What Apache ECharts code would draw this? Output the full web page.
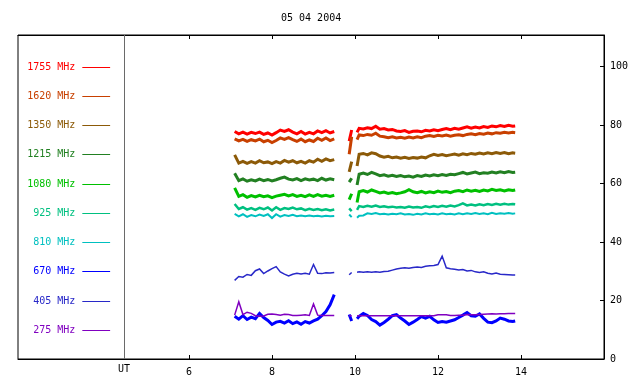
<!DOCTYPE html>
<html><head><meta charset="utf-8">
<script src="https://cdn.jsdelivr.net/npm/echarts@6/dist/echarts.min.js"></script>
<style>html,body{margin:0;padding:0;background:#fff}#c{width:640px;height:384px}</style>
</head><body><div id="c"></div>
<script>
const titleText = '05 04 2004';
const xTicks = [6, 8, 10, 12, 14];
const yTicks = [0, 20, 40, 60, 80, 100];
const legendLabels = ['1755 MHz','1620 MHz','1350 MHz','1215 MHz','1080 MHz','925 MHz','810 MHz','670 MHz','405 MHz','275 MHz'];
const legendLevels = [100, 90, 80, 70, 60, 50, 40, 30, 20, 10];
const colors = ['#ff0000','#c84000','#8c5a08','#228022','#00c000','#00c080','#00c0c0','#0000ff','#2828c8','#8000c0'];

const hours = [7.1,7.2,7.3,7.4,7.5,7.6,7.7,7.8,7.9,8.0,8.1,8.2,8.3,8.4,8.5,8.6,8.7,8.8,8.9,9.0,9.1,9.2,9.3,9.4,9.5,
 9.7,
 9.86,9.92,
 10.0,
 10.05,10.1,10.2,10.3,10.4,10.5,10.6,10.7,10.8,10.9,11.0,11.1,11.2,11.3,11.4,11.5,11.6,11.7,11.8,11.9,12.0,12.1,12.2,12.3,12.4,12.5,12.6,12.7,12.8,12.9,13.0,13.1,13.2,13.3,13.4,13.5,13.6,13.7,13.8,13.86];

const f1755 = [77.8,77.0,77.6,76.9,77.5,77.1,77.6,76.8,77.3,76.6,77.4,78.3,77.8,78.4,77.6,77.0,77.8,76.9,77.5,77.0,78.0,77.4,78.1,77.3,77.8,
 null, 74.5,78.3, null,
 77.5,78.9,78.7,79.1,78.8,79.6,78.6,78.8,78.3,78.5,78.0,77.8,78.1,77.5,77.9,78.0,77.7,78.2,78.0,78.4,78.1,78.5,78.8,78.4,78.9,78.6,79.0,79.4,78.9,79.3,79.0,79.5,79.2,79.7,79.4,79.8,79.5,79.9,79.6,79.7];
const f1620 = [75.3,74.6,75.1,74.4,75.0,74.6,75.2,74.3,74.8,74.0,74.7,75.6,75.1,75.7,75.0,74.4,75.2,74.3,74.9,74.4,75.5,74.8,75.6,74.7,75.3,
 null, 70.0,76.0, null,
 75.0,76.6,76.4,76.8,76.5,77.2,76.2,76.0,75.7,76.0,75.6,75.8,75.5,75.9,75.6,76.0,75.7,76.2,76.4,76.1,76.5,76.3,76.6,76.2,76.5,76.7,76.4,76.8,77.0,76.7,77.1,76.9,77.3,77.0,77.4,77.2,77.5,77.3,77.5,77.4];
const f1350 = [69.8,67.0,67.6,66.9,67.5,67.0,67.8,67.1,67.4,66.8,67.5,67.0,67.9,67.3,67.8,67.1,67.6,67.0,67.8,67.3,68.3,67.6,68.4,67.8,68.2,
 null, 64.0,67.5, null,
 66.0,70.0,70.3,69.8,70.5,70.2,69.4,69.0,69.3,68.8,69.1,68.7,69.0,68.6,68.9,68.7,69.1,68.8,69.5,70.0,69.6,69.9,69.5,69.8,70.1,69.7,70.2,69.9,70.3,70.0,70.4,70.1,70.5,70.2,70.6,70.3,70.6,70.2,70.5,70.4];
const f1215 = [63.5,61.0,61.6,60.8,61.3,60.9,61.5,61.0,61.4,60.9,61.3,61.8,62.2,61.5,61.2,61.7,61.0,61.6,61.2,61.5,61.0,61.8,61.2,61.6,61.3,
 null, 60.5,61.8, null,
 59.5,63.2,63.6,63.1,63.8,63.3,62.7,63.0,62.5,62.8,62.4,62.7,62.3,62.6,62.2,62.7,62.4,62.9,62.6,63.0,62.7,63.1,62.8,63.2,63.0,63.4,63.8,63.3,63.6,63.9,63.4,63.7,63.5,63.9,63.6,64.0,63.7,64.1,63.8,63.9];
const f1080 = [58.5,55.6,56.2,55.3,55.9,55.4,56.0,55.5,55.8,55.2,55.7,56.0,56.3,55.8,56.2,55.6,56.0,55.5,56.1,55.6,56.2,55.7,56.0,55.6,56.0,
 null, 54.5,56.5, null,
 53.5,57.2,57.6,57.1,57.8,57.3,56.8,57.1,56.6,56.9,56.5,56.8,57.2,57.9,57.2,56.9,57.3,56.8,57.2,56.9,57.4,57.0,57.3,56.9,57.4,57.6,57.2,57.8,57.4,57.7,57.3,57.8,57.5,58.0,57.6,57.9,57.5,57.9,57.6,57.8];
const f925 = [53.0,51.3,51.9,51.1,51.6,51.0,51.7,51.2,51.8,50.8,51.9,51.0,51.6,51.3,51.8,51.2,51.5,50.9,51.4,51.0,51.3,50.9,51.2,50.8,51.1,
 null, 51.5,50.6, null,
 51.0,52.3,52.0,52.4,52.1,52.5,52.0,52.2,51.9,52.1,51.8,52.0,51.7,52.1,51.8,52.0,51.7,52.2,51.9,52.3,52.0,52.4,52.1,52.5,52.2,52.6,53.2,52.5,52.8,52.5,52.9,52.6,53.0,52.7,53.1,52.8,53.1,52.8,53.0,52.9];
const f810 = [49.6,48.8,49.5,48.6,49.2,48.8,49.4,48.9,49.5,48.2,49.5,48.7,49.2,48.9,49.3,48.8,49.1,48.8,49.1,48.8,49.0,48.7,49.0,48.8,48.9,
 null, 49.4,48.5, null,
 48.3,49.0,49.1,49.8,49.6,49.9,49.5,49.7,49.4,49.7,49.5,49.8,49.4,49.6,49.3,49.7,49.4,49.8,49.5,49.7,49.4,49.8,49.5,49.7,49.4,49.8,49.5,49.8,49.6,49.9,49.6,49.8,49.5,50.0,49.6,49.8,49.7,49.9,49.7,49.8];
const f670 = [14.6,13.6,14.8,13.5,14.3,13.8,15.6,14.2,13.2,11.8,12.6,12.9,12.3,13.1,12.1,12.7,11.9,12.8,12.3,13.0,13.6,14.8,16.2,18.5,22.0,
 null, 15.2,13.0, null,
 13.8,14.6,15.6,14.9,13.5,12.8,11.6,12.5,13.6,14.8,15.2,14.0,13.0,11.8,12.6,13.5,14.5,14.0,14.6,13.4,12.5,12.8,12.6,13.0,13.4,14.2,15.0,15.9,14.8,14.6,15.4,13.9,12.6,12.4,13.0,14.0,13.6,13.0,12.8,13.0];
const f405 = [26.9,28.2,28.0,28.9,28.6,30.2,30.8,29.2,30.1,30.9,31.6,29.8,29.0,28.4,29.0,29.3,29.1,29.3,29.0,32.3,29.3,29.2,29.5,29.4,29.6,
 null, 28.8,29.6, null,
 29.7,29.8,29.7,29.8,29.7,29.8,29.7,29.9,30.0,30.4,30.8,31.0,31.2,31.0,31.3,31.5,31.3,31.7,31.9,32.0,32.3,35.2,31.2,30.9,30.7,30.4,30.6,30.1,30.3,29.8,29.6,29.8,29.3,29.1,29.4,29.0,28.9,28.8,28.7,28.7];
const f275 = [15.0,19.6,15.2,16.0,15.6,14.8,14.6,14.7,15.3,15.4,15.2,15.0,15.3,15.2,14.9,14.9,15.0,15.1,14.9,18.8,15.0,14.9,14.9,14.9,14.9,
 null, 14.8,14.8, null,
 14.8,14.8,14.8,14.8,14.8,14.8,14.8,14.8,14.8,14.8,14.8,14.8,14.8,14.8,14.8,14.8,14.8,14.8,14.8,14.8,15.1,15.1,15.1,14.9,14.9,15.0,15.0,15.2,15.1,15.1,15.2,15.3,15.4,15.5,15.4,15.5,15.5,15.6,15.6,15.6];

const seriesValues = [f1755, f1620, f1350, f1215, f1080, f925, f810, f670, f405, f275];
const lineWidths = [3, 3, 3, 3, 3, 2.5, 2, 3, 1.5, 1.5];

const FONT = 'DejaVu Sans Mono';
const FS = 10;
const chart = echarts.init(document.getElementById('c'), null, {renderer: 'canvas'});

const seriesList = seriesValues.map((vals, i) => ({
  type: 'line',
  name: legendLabels[i],
  data: hours.map((h, k) => [h, vals[k] == null ? '-' : vals[k]]),
  showSymbol: false,
  symbol: 'none',
  connectNulls: false,
  lineStyle: {color: colors[i], width: lineWidths[i], join: 'miter'},
  itemStyle: {color: colors[i]},
  z: 2 + i,
  silent: true
}));

const axisCommon = {
  type: 'value', min: 1.88, max: 16.0,
  axisLine: {show: true, lineStyle: {color: '#000', width: 1}},
  splitLine: {show: false}
};

chart.setOption({
  animation: false,
  title: {text: titleText, left: 281, top: 13, padding: 0, textStyle: {fontFamily: FONT, fontSize: FS, fontWeight: 'normal', color: '#000'}},
  grid: {left: 18, right: 36, top: 35, bottom: 25, show: true, borderColor: '#000', borderWidth: 1, backgroundColor: 'transparent'},
  xAxis: [
    Object.assign({}, axisCommon, {
      position: 'bottom',
      axisTick: {show: true, inside: true, length: 4, customValues: xTicks, lineStyle: {color: '#000'}},
      axisLabel: {show: true, customValues: xTicks, margin: 8, fontFamily: FONT, fontSize: FS, color: '#000'}
    }),
    Object.assign({}, axisCommon, {
      position: 'top',
      axisTick: {show: true, inside: true, length: 4, customValues: xTicks, lineStyle: {color: '#000'}},
      axisLabel: {show: false}
    })
  ],
  yAxis: {
    type: 'value', min: 0, max: 110.8, position: 'right',
    axisLine: {show: true, lineStyle: {color: '#000', width: 1}},
    axisTick: {show: true, inside: true, length: 4, customValues: yTicks, lineStyle: {color: '#000'}},
    axisLabel: {show: true, customValues: yTicks, margin: 6, fontFamily: FONT, fontSize: FS, color: '#000'},
    splitLine: {show: false}
  },
  series: seriesList
});

// Decorations: UT divider, UT label, and legend positioned via the axes
const utX = 4.434;
const toPx = (x, y) => chart.convertToPixel({xAxisIndex: 0, yAxisIndex: 0}, [x, y]);
const pTop = toPx(utX, 110.8), pBot = toPx(utX, 0);
const utLineX = Math.round(pTop[0]) + 0.5;
const graphics = [
  {type: 'line', shape: {x1: utLineX, y1: pTop[1], x2: utLineX, y2: pBot[1]}, style: {stroke: '#6a6a6a', lineWidth: 1}, z: 1},
  {type: 'text', x: pTop[0], y: pBot[1] + 10, style: {text: 'UT', font: FS + 'px ' + FONT, fill: '#000', textAlign: 'center', textVerticalAlign: 'middle'}}
];
legendLabels.forEach((lab, i) => {
  const p = toPx(3.43, legendLevels[i]);
  const p2 = toPx(4.1, legendLevels[i]);
  const yy = Math.round(p[1]) + 0.5;
  graphics.push({type: 'text', x: p[0] - 7, y: yy, style: {text: lab, font: FS + 'px ' + FONT, fill: colors[i], textAlign: 'right', textVerticalAlign: 'middle'}});
  graphics.push({type: 'line', shape: {x1: p[0], y1: yy, x2: p2[0], y2: yy}, style: {stroke: colors[i], lineWidth: 1}});
});
chart.setOption({graphic: graphics});
</script>
</body></html>
